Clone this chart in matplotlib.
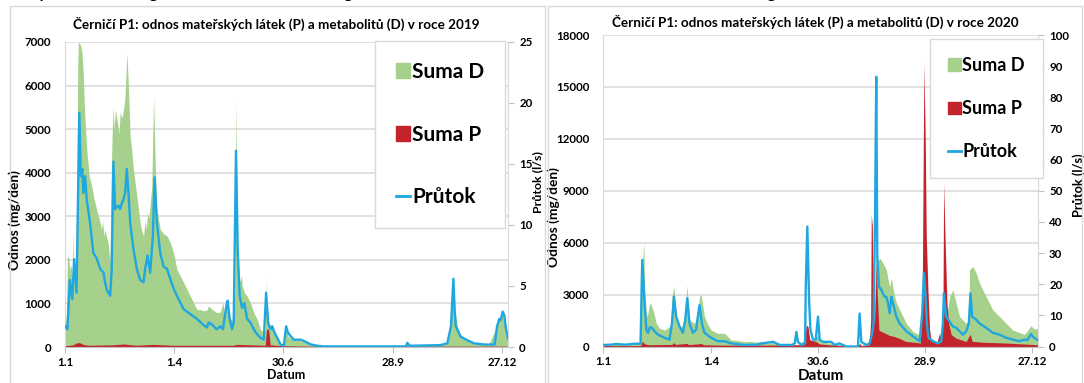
import matplotlib
matplotlib.use('Agg')
import matplotlib.pyplot as plt
from matplotlib.patches import Patch, Rectangle
from matplotlib.lines import Line2D

plt.rcParams['font.family'] = ['Lato', 'DejaVu Sans']
plt.rcParams['font.weight'] = 'bold'

# ---- data (day of year, value) ----
# 2019 - Suma D (mg/den)
d19_days = [1, 2, 3, 4, 5, 6, 7, 7.6, 8.5, 9.5, 10.5, 11.5, 12, 13, 14, 15, 16, 17, 17.5, 19, 21, 23, 24.5, 27, 30,
            31, 32, 33, 34, 35, 36.5, 38, 39.5, 40.5, 41.5, 42.5, 44, 45.5, 46.5, 48, 49.5, 50.5, 52, 53.3, 54.7, 56,
            57.4, 60.2, 62.9, 64, 65.7, 67, 68, 69, 70, 71.2, 72.5, 74, 75.3, 76.7, 79.5, 82.2, 85, 87.7, 90.5, 93.2,
            98.7, 104.2, 109.7, 112.5, 115, 118, 119.3, 122, 126, 129, 131.2, 132.3, 134, 135, 136.7, 138.6, 140, 141,
            141.9, 143, 143.8, 145, 146.5, 147, 148.8, 151, 153.8, 156.5, 159.3, 162, 164.8, 166, 166.7, 167.5, 168.4,
            170.3, 171.7, 173.6, 175.8, 178.5, 181.3, 183.2, 184.6, 186.8, 189.5, 195, 200, 206, 214, 280, 283, 285,
            316, 319, 321, 322.5, 324, 327, 332, 338, 350, 357, 359, 361, 363, 364, 366]
d19_vals = [790, 600, 2090, 2050, 1780, 1900, 1500, 2660, 1500, 1900, 1700, 6500, 6980, 6980, 6900, 6750, 6300, 5500,
            5220, 4500, 3920, 3700, 3460, 3160, 2850, 2700, 2900, 2550, 2700, 2550, 2400, 1930, 4500, 5530, 5000, 5450,
            5200, 4900, 5400, 5250, 5500, 5760, 6750, 5950, 4840, 4500, 4080, 3460, 2850, 2700, 2550, 2900, 2700, 3100,
            2950, 3300, 3700, 5760, 4230, 3160, 2700, 2600, 2550, 2400, 2160, 1780, 1480, 1170, 860, 860, 830, 850,
            940, 870, 790, 800, 1040, 700, 1000, 1020, 700, 600, 900, 1200, 5720, 2000, 1710, 1500, 1630, 1400, 1250,
            1170, 1016, 790, 635, 405, 330, 400, 1550, 600, 560, 445, 480, 300, 250, 60, 30, 480, 250, 200, 180, 140,
            130, 60, 20, 15, 100, 15, 80, 500, 1600, 850, 500, 250, 160, 80, 50, 480, 650, 800, 700, 480, 200]
# 2019 - Suma P (mg/den)
p19_days = [1, 8, 10, 12, 14, 16, 20, 40, 50, 52, 60, 74, 90, 140, 142, 166, 167, 168, 169, 170, 180, 200, 366]
p19_vals = [30, 50, 90, 100, 90, 60, 40, 50, 70, 60, 40, 60, 40, 40, 60, 40, 400, 420, 360, 50, 30, 20, 20]
# 2019 - Průtok (l/s)
q19_days = [1, 3, 5, 7, 8.5, 10.5, 12.8, 14, 15.3, 16.1, 17.5, 19, 21.6, 24.4, 27, 30, 32.7, 34, 35.4, 38.2, 39.5,
            40.9, 42.3, 43.7, 45, 46.4, 47.8, 49.2, 50.5, 51.9, 53.3, 54.7, 57.4, 60.2, 62.9, 65.7, 67, 69, 71.2, 73.4,
            74.8, 76.7, 79.5, 82.2, 85, 87.7, 90.5, 93.2, 98.7, 104.2, 109.7, 115.2, 118, 119.3, 122, 126, 129, 131.2,
            132.3, 134, 135, 136.7, 138.6, 140, 141.9, 143.3, 144.9, 146.9, 148.8, 151, 153.8, 156.5, 159.3, 162,
            164.8, 166.7, 168.4, 170.3, 171.7, 173.6, 175.8, 178.5, 181.3, 183.2, 184.6, 186.8, 189.5, 195, 197.8,
            203.3, 208.8, 214.3, 282, 283, 285, 310, 316, 319, 321, 322, 323, 327, 332, 338, 347, 355, 357, 358.8,
            360, 361.6, 363, 364, 366]
q19_vals = [1.7, 1.45, 5.5, 3.9, 7.2, 4.45, 19.2, 14.0, 14.6, 12.6, 14.0, 12.0, 10.2, 7.7, 7.3, 6.4, 6.1, 5.3, 4.7,
            4.2, 6.4, 15.2, 11.3, 11.5, 11.6, 11.3, 11.8, 12.1, 12.6, 14.6, 12.6, 10.2, 8.0, 6.4, 5.5, 5.3, 6.4, 7.5,
            6.1, 9.1, 13.9, 10.2, 7.7, 6.6, 6.4, 5.6, 4.8, 4.2, 3.1, 2.7, 2.3, 1.8, 1.6, 2.0, 1.86, 1.45, 1.7, 1.45,
            2.3, 3.4, 3.8, 2.3, 1.45, 2.0, 16.1, 8.0, 4.2, 3.2, 3.6, 2.3, 2.0, 1.45, 1.04, 0.77, 0.6, 4.45, 2.0, 1.45,
            1.7, 1.2, 0.77, 0.22, 0.1, 1.7, 1.2, 0.9, 0.6, 0.6, 0.5, 0.22, 0.1, 0.05, 0.05, 0.35, 0.1, 0.15, 0.3, 1.7,
            5.6, 3.0, 1.7, 0.85, 0.58, 0.3, 0.2, 0.2, 1.7, 2.3, 2.2, 2.9, 2.6, 1.7, 0.7]

# 2020 - Suma D (mg/den)
d20_days = [1, 5, 8, 12, 16, 20, 24, 28, 32, 33, 34.5, 35.4, 36, 37.4, 38.3, 39.5, 40.2, 41.6, 43.9, 45.8, 48.6, 52.8,
            57, 58, 59, 60.7, 62.6, 65.4, 66.8, 69.6, 70.5, 71.6, 73.8, 76.6, 78, 80.8, 82.2, 83.6, 86.4, 89, 92, 97.6,
            103.2, 108.8, 114, 120, 125, 130, 135, 140, 144, 150, 160, 165, 170.7, 172, 173.5, 175, 178, 181.9, 183.3,
            186, 193, 200, 206, 211, 215, 216.9, 218.3, 222, 225.3, 226.7, 228, 229.5, 230.9, 233, 234, 236.6, 239.4,
            240.8, 242.2, 243.6, 245, 246.4, 248, 250.6, 256.2, 261.8, 267.4, 269.6, 271, 273, 275.8, 278.6, 281.4,
            284.2, 287, 288.4, 289.8, 292.6, 295.4, 298.2, 301, 303.8, 306.6, 308.8, 309.4, 312.2, 315, 317.8, 323.4,
            329, 334.6, 340.2, 345.8, 351.4, 355.6, 358, 361, 364, 367]
d20_vals = [90, 150, 100, 180, 120, 180, 150, 200, 200, 5000, 5100, 6060, 3300, 2000, 1720, 2200, 2500, 2400, 1920,
            1340, 1050, 950, 1150, 1200, 2880, 3460, 1730, 1200, 1150, 1340, 2200, 3550, 1530, 1400, 1340, 1920, 2880,
            2980, 1730, 1300, 950, 760, 760, 380, 350, 280, 290, 250, 300, 200, 250, 150, 100, 120, 380, 950, 950, 400,
            300, 670, 300, 250, 190, 90, 50, 0, 0, 190, 90, 90, 380, 1000, 960, 2500, 5190, 5000, 5100, 4820, 4430,
            3900, 3470, 3950, 3400, 2880, 2500, 2120, 1340, 860, 665, 470, 600, 1530, 570, 380, 280, 180, 300, 2500,
            1530, 2880, 3270, 2500, 1730, 1530, 1340, 1500, 4430, 4620, 4240, 3660, 2880, 2120, 1730, 1340, 950, 800,
            700, 900, 1200, 1000, 1050]
# 2020 - Suma P (mg/den)
p20_days = [1, 32, 33, 34, 36, 40, 59, 60.7, 62, 71.6, 73, 83.6, 86, 100, 140, 170, 170.7, 172, 173.5, 175, 180, 183,
            190, 210, 216, 217, 218, 225, 226.2, 226.7, 227.6, 228.1, 229.5, 230.9, 231.8, 233.2, 236.5, 239.3, 242,
            246, 250, 256, 262, 268, 269.6, 271, 272.1, 273, 274.4, 275.8, 277.2, 282, 284.2, 285.6, 287, 287.6, 289,
            290.4, 291.8, 294, 298.2, 306.6, 308.8, 310, 311.6, 320, 340, 367]
p20_vals = [50, 50, 80, 300, 150, 100, 120, 220, 120, 180, 110, 170, 100, 80, 80, 100, 380, 1240, 1150, 385, 290, 150,
            100, 30, 50, 190, 50, 100, 1500, 7600, 7000, 2400, 1350, 4900, 3000, 930, 830, 735, 640, 580, 480, 290,
            250, 200, 2890, 16370, 12130, 6350, 3270, 960, 290, 250, 770, 290, 1500, 9430, 5780, 2500, 1350, 680, 480,
            290, 580, 700, 300, 250, 200, 100]
# 2020 - Průtok (l/s)
q20_days = [1, 8, 12, 20, 28, 32.6, 34, 36, 37.4, 38.8, 40.2, 41.6, 44.4, 47.2, 52.8, 57, 59, 60.7, 62.6, 65.4, 68.2,
            70.2, 71.9, 73.8, 76.6, 79.4, 80.8, 82.2, 84.2, 86.4, 92, 97.6, 103.2, 108.8, 120, 130, 135, 144, 150, 160,
            162.3, 163.7, 165, 168, 171, 171.6, 172.9, 174.4, 175.5, 177.7, 180, 181.9, 183.3, 186, 193, 196, 200,
            205.7, 215.5, 216.9, 218.3, 222.5, 225.3, 227.6, 228.7, 230, 230.9, 231.8, 233.2, 235.1, 237.9, 239.4,
            240.8, 242.2, 243.6, 245, 247.8, 250.6, 256.2, 261.8, 267.4, 269.6, 271, 272.4, 273.5, 274.9, 278.6,
            282.8, 285.6, 287, 287.8, 289.8, 292.6, 295.4, 298.2, 301, 303.8, 306.6, 308.8, 310.2, 311.6, 315, 317.8,
            323.4, 329, 334.6, 340.2, 345.8, 351.4, 355.6, 358, 361, 363, 367]
q20_vals = [0.5, 0.6, 0.8, 0.6, 0.9, 0.9, 27.8, 13.9, 5.5, 4.4, 6.0, 6.2, 4.9, 3.8, 2.8, 2.2, 7.4, 16.0, 9.6, 6.4, 4.4,
            8.6, 15.5, 7.4, 4.4, 5.4, 9.6, 13.3, 7.4, 4.4, 2.8, 1.7, 1.7, 1.0, 0.5, 0.6, 1.0, 1.5, 0.5, 0.5, 1.0, 4.7,
            1.5, 0.5, 1.0, 19.2, 38.5, 14.9, 5.4, 2.2, 2.2, 9.6, 2.2, 1.5, 1.5, 0.5, 1.0, 0.0, 0.0, 10.6, 1.5, 0.5,
            1.0, 4.4, 8.0, 45.0, 86.6, 28.9, 19.3, 18.2, 16.0, 16.0, 13.9, 10.7, 16.0, 13.9, 9.6, 7.4, 4.9, 3.3, 1.7,
            10.7, 23.6, 16.0, 7.4, 2.8, 1.7, 1.0, 1.7, 7.4, 17.1, 9.6, 8.0, 6.4, 6.0, 4.9, 3.8, 4.9, 7.4, 17.1, 9.6,
            8.6, 7.4, 6.0, 4.4, 3.8, 2.8, 2.2, 1.7, 2.2, 2.0, 4.0, 3.0, 2.0]

ticks19 = [1, 91, 181, 271, 361]
ticks20 = [1, 92, 182, 272, 362]
tick_labels = ['1.1', '1.4', '30.6', '28.9', '27.12']

GREEN = '#a6d18d'
RED = '#c3242c'
BLUE = '#1fa7e0'
GRID = '#d9d9d9'
W, H = 1084, 383

fig = plt.figure(figsize=(W / 100, H / 100), dpi=100)
renderer = fig.canvas.get_renderer()


def fit(t, px, vertical=False):
    # scale a text so that it spans px pixels
    bb = t.get_window_extent(renderer)
    size = bb.height if vertical else bb.width
    t.set_fontsize(t.get_fontsize() * px / size)


# chart area frames
fig.patches.append(Rectangle((10 / W, -0.05), 535 / W, 1.05 - 6 / H, transform=fig.transFigure,
                             fill=False, edgecolor=GRID, linewidth=1))
fig.patches.append(Rectangle((548 / W, -0.05), 534 / W, 1.05 - 6 / H, transform=fig.transFigure,
                             fill=False, edgecolor=GRID, linewidth=1))

# caption of the figure above, cut off by the page
fig.text(0.0, 1 - 1 / H, 'Graf 5: Odnos pesticidů ve vodě z povodí Černičí P1 v letech 2019 a 2020, upraveno dle Kodeš et al.',
         family='Liberation Serif', style='italic', weight='normal', fontsize=18, va='bottom')


def draw(px, d_days, d_vals, p_days, p_vals, q_days, q_vals, xmax, ticks, ymax, ystep, qmax, qstep, title,
         title_xy, ylab_pos, qlab_pos, qlab_px, datum_fs, leg_xy, leg_fs, leg_space):
    x0, y0, x1, y1 = px
    ax = fig.add_axes([x0 / W, 1 - y1 / H, (x1 - x0) / W, (y1 - y0) / H])
    ax.fill_between(d_days, d_vals, color=GREEN, linewidth=0)
    ax.fill_between(p_days, p_vals, color=RED, linewidth=0)
    ax.set_xlim(1, xmax)
    ax.set_ylim(0, ymax)
    ax.set_yticks(range(0, ymax + 1, ystep))
    ax.set_xticks(ticks)
    ax.set_xticklabels(tick_labels)
    ax.grid(axis='y', color=GRID, linewidth=1.1)
    ax.set_axisbelow(True)
    for s in ['top', 'right']:
        ax.spines[s].set_visible(False)
    ax.spines['left'].set_color(GRID)
    ax.spines['bottom'].set_color('#bfbfbf')
    ax.tick_params(axis='y', length=0, pad=10, labelsize=8.3)
    ax.tick_params(axis='x', length=4, color='#bfbfbf', pad=3, labelsize=8.3)
    for lab in ax.get_xticklabels() + ax.get_yticklabels():
        lab.set_fontweight('bold')
    ax.set_ylabel('Odnos (mg/den)', fontsize=10, fontweight='bold')
    ax.yaxis.set_label_coords(*ylab_pos)
    fit(ax.yaxis.label, 100, vertical=True)
    ax.set_xlabel('Datum', fontsize=datum_fs, fontweight='bold', labelpad=1)

    ax2 = ax.twinx()
    ax2.plot(q_days, q_vals, color=BLUE, linewidth=1.7)
    ax2.set_ylim(0, qmax)
    ax2.set_yticks(range(0, qmax + 1, qstep))
    for s in ['top', 'left', 'bottom']:
        ax2.spines[s].set_visible(False)
    ax2.spines['right'].set_color(GRID)
    ax2.tick_params(axis='y', length=4, color='#bfbfbf', pad=4, labelsize=8.3)
    for lab in ax2.get_yticklabels():
        lab.set_fontweight('bold')
    ax2.set_ylabel('Průtok (l/s)', fontsize=9, fontweight='bold')
    ax2.yaxis.set_label_coords(*qlab_pos)
    fit(ax2.yaxis.label, qlab_px, vertical=True)

    t = fig.text(title_xy[0] / W, 1 - title_xy[1] / H, title, ha='center', va='center', fontsize=10,
                 fontweight='bold')
    fit(t, 407)

    handles = [Patch(color=GREEN), Patch(color=RED), Line2D([], [], color=BLUE, linewidth=2)]
    leg = ax2.legend(handles, ['Suma D', 'Suma P', 'Průtok'], loc='upper left',
                     bbox_to_anchor=(leg_xy[0] / W, 1 - leg_xy[1] / H), bbox_transform=fig.transFigure,
                     frameon=True, fancybox=False, edgecolor=GRID, framealpha=1,
                     handlelength=0.7, handleheight=0.7, handletextpad=0.1, labelspacing=leg_space,
                     borderpad=1.0, borderaxespad=0, prop={'weight': 'bold', 'size': leg_fs})
    leg.get_frame().set_linewidth(1)


draw((65, 42, 508, 347), d19_days, d19_vals, p19_days, p19_vals, q19_days, q19_vals, 366, ticks19,
     7000, 1000, 25, 5, 'Černičí P1: odnos mateřských látek (P) a metabolitů (D) v roce 2019',
     (276, 24), (-0.1, 0.415), (1.055, 0.54), 62, 9, (375, 41), 15, 2.05)
draw((603, 35, 1038, 346.5), d20_days, d20_vals, p20_days, p20_vals, q20_days, q20_vals, 367, ticks20,
     18000, 3000, 100, 10, 'Černičí P1: odnos mateřských látek (P) a metabolitů (D) v roce 2020',
     (815, 22), (-0.1, 0.417), (1.08, 0.518), 64, 11, (930, 39), 13, 1.45)

fig.savefig('out.png', dpi=100)
